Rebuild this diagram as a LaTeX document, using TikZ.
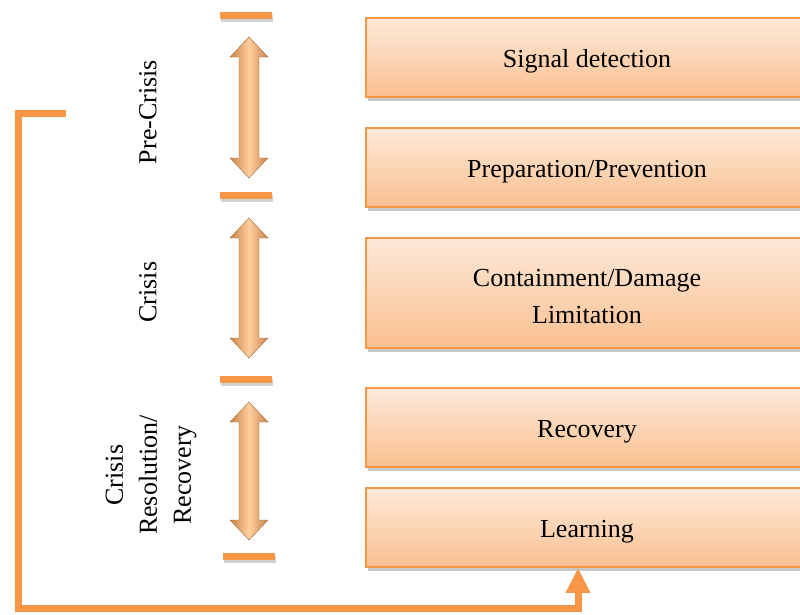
\documentclass[tikz,border=0pt]{standalone}
\usepackage{fontspec}
\setmainfont{Liberation Serif}
\usetikzlibrary{shadows,arrows.meta,calc}
\definecolor{accent}{HTML}{F79646}
\definecolor{boxtop}{HTML}{FDE9D9}
\definecolor{boxbot}{HTML}{FAC090}
\definecolor{arrowedge}{HTML}{C9834A}
\definecolor{arrowmid}{HTML}{FFCF9E}
\tikzset{
  stage/.style={draw=accent, line width=1.6pt, top color=boxtop, bottom color=boxbot,
    minimum width=442pt, inner sep=0pt,
    drop shadow={shadow xshift=2pt, shadow yshift=-4pt, opacity=0.35, fill=black!60}},
  stagetext/.style={align=center, font=\fontsize{26}{37}\selectfont, inner sep=0pt},
  marker/.style={fill=accent, draw=none, minimum width=52pt, minimum height=7pt, inner sep=0pt,
    drop shadow={shadow xshift=1pt, shadow yshift=-3pt, opacity=0.3, fill=black!60}},
  phase/.style={rotate=90, align=center, font=\fontsize{26}{34}\selectfont},
  spanarrow/.style={left color=arrowedge, right color=arrowedge, middle color=arrowmid,
    draw=arrowedge!80!black, line width=0.4pt},
  feedback/.style={draw=accent, line width=7pt, line join=miter},
}
\begin{document}
\begin{tikzpicture}[x=1pt,y=-1pt]
  \useasboundingbox (0,0) rectangle (800,614);
  \clip (0,0) rectangle (800,614);

  % stage boxes
  \node[stage, minimum height=79pt]  (signal)  at (587,57.5)  {};
  \node[stage, minimum height=79pt]  (prep)    at (587,167.5) {};
  \node[stage, minimum height=110pt] (contain) at (587,293)   {};
  \node[stage, minimum height=79pt]  (recov)   at (587,427.5) {};
  \node[stage, minimum height=79pt]  (learn)   at (587,527.5) {};

  % stage captions, set a little below each box centre
  \node[stagetext] (signal-t)  at ($(signal.center)+(0,4)$)  {Signal detection};
  \node[stagetext] (prep-t)    at ($(prep.center)+(0,4)$)    {Preparation/Prevention};
  \node[stagetext] (contain-t) at ($(contain.center)+(0,4)$) {Containment/Damage\\Limitation};
  \node[stagetext] (recov-t)   at ($(recov.center)+(0,4)$)   {Recovery};
  \node[stagetext] (learn-t)   at ($(learn.center)+(0,4)$)   {Learning};

  % phase boundary markers
  \node[marker] (m1) at (246,15.5) {};
  \node[marker] (m2) at (246,195.5) {};
  \node[marker] (m3) at (246,379.5) {};
  \node[marker] (m4) at (249,556.5) {};

  % double-headed span arrows
  \foreach \t/\b in {37/178, 218/358, 402/540}{
    \path[spanarrow] (249,\t) -- (268,\t+20) -- (259,\t+20) -- (259,\b-20) -- (268,\b-20)
      -- (249,\b) -- (230,\b-20) -- (239,\b-20) -- (239,\t+20) -- (230,\t+20) -- cycle;
  }

  % phase labels
  \node[phase] (pre) at (148,112) {Pre-Crisis};
  \node[phase] (cri) at (148,292) {Crisis};
  \node[phase] (res) at (151,475) {Crisis\\Resolution/\\Recovery};

  % feedback loop into learning
  \coordinate (fbstart) at (66,113);
  \coordinate (fbcorner) at (578,608);
  \draw[feedback, -{Triangle[width=23pt,length=25pt]}]
    (fbstart) -- (18,113) -- (18,608) -- (fbcorner) -- (fbcorner |- learn.south);
\end{tikzpicture}
\end{document}
